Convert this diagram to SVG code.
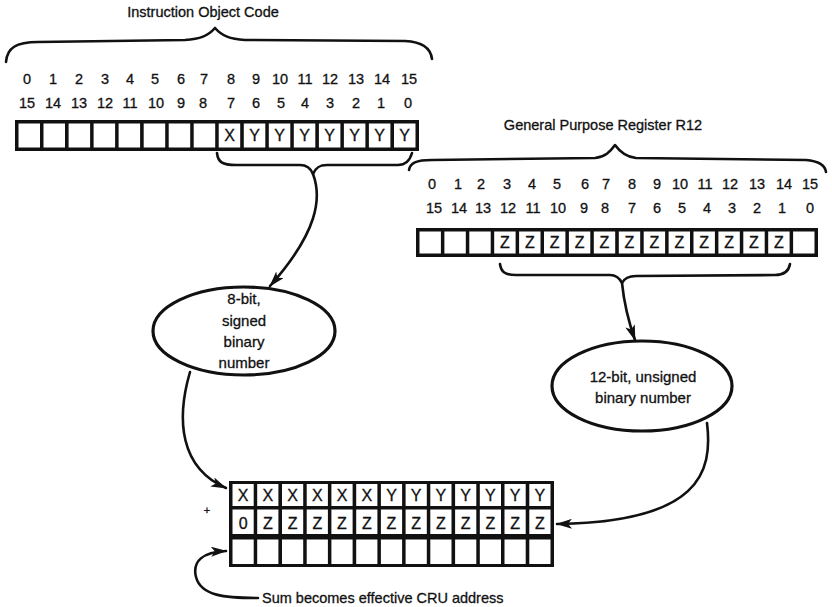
<svg xmlns="http://www.w3.org/2000/svg" width="832" height="607" viewBox="0 0 832 607">
<defs>
<style>
text{font-family:"Liberation Sans",Arial,sans-serif;fill:#111;stroke:#111;stroke-width:0.3}
.t{font-size:14.5px}
.d{font-size:14.5px;text-anchor:middle}
.c{font-size:16px;text-anchor:middle}
.o{font-size:15px;text-anchor:middle}
.reg{fill:#111}
.cell{fill:#fff}
.br{fill:none;stroke:#111;stroke-width:2.6;stroke-linecap:round;stroke-linejoin:round}
.ln{fill:none;stroke:#111;stroke-width:2.6;stroke-linecap:round}
.ov{fill:#fff;stroke:#111;stroke-width:3.2}
</style>
<marker id="ah" viewBox="0 0 16 10" refX="15" refY="5" markerWidth="16" markerHeight="10" markerUnits="userSpaceOnUse" orient="auto">
<path d="M0,0 L16,5 L0,10 L4,5 Z" fill="#111"/>
</marker>
</defs>
<rect width="832" height="607" fill="#fff"/>

<g id="instruction-object-code">
<text class="t" x="203" y="17" text-anchor="middle">Instruction Object Code</text>
<path class="br" d="M6,62 C7,48 16,42 38,42 L185,40 C200,39 208,36 215,28 C222,36 230,39 245,40 L405,41 C425,42 431,50 432,59"/>
<g class="d">
<text x="27" y="84">0</text><text x="53" y="84">1</text><text x="79" y="84">2</text><text x="105" y="84">3</text><text x="130" y="84">4</text><text x="155" y="84">5</text><text x="181" y="84">6</text><text x="204" y="84">7</text><text x="231" y="84">8</text><text x="256" y="84">9</text><text x="280" y="84">10</text><text x="305" y="84">11</text><text x="330" y="84">12</text><text x="356" y="84">13</text><text x="382" y="84">14</text><text x="409" y="84">15</text>
<text x="27" y="108">15</text><text x="53" y="108">14</text><text x="79" y="108">13</text><text x="105" y="108">12</text><text x="130" y="108">11</text><text x="156" y="108">10</text><text x="181" y="108">9</text><text x="203" y="108">8</text><text x="231" y="108">7</text><text x="256" y="108">6</text><text x="281" y="108">5</text><text x="305" y="108">4</text><text x="330" y="108">3</text><text x="356" y="108">2</text><text x="381" y="108">1</text><text x="408" y="108">0</text>
</g>
<rect class="reg" x="15" y="120" width="404" height="31"/>
<g class="cell">
<rect x="18.5" y="123.5" width="21.5" height="24"/><rect x="43.5" y="123.5" width="21.5" height="24"/><rect x="68.6" y="123.5" width="21.5" height="24"/><rect x="93.6" y="123.5" width="21.5" height="24"/><rect x="118.6" y="123.5" width="21.5" height="24"/><rect x="143.7" y="123.5" width="21.5" height="24"/><rect x="168.7" y="123.5" width="21.5" height="24"/><rect x="193.7" y="123.5" width="21.5" height="24"/><rect x="218.7" y="123.5" width="21.5" height="24"/><rect x="243.8" y="123.5" width="21.5" height="24"/><rect x="268.8" y="123.5" width="21.5" height="24"/><rect x="293.8" y="123.5" width="21.5" height="24"/><rect x="318.9" y="123.5" width="21.5" height="24"/><rect x="343.9" y="123.5" width="21.5" height="24"/><rect x="368.9" y="123.5" width="21.5" height="24"/><rect x="394" y="123.5" width="21.5" height="24"/>
</g>
<g class="c">
<text x="229.5" y="141">X</text><text x="254.5" y="141">Y</text><text x="279.6" y="141">Y</text><text x="304.6" y="141">Y</text><text x="329.6" y="141">Y</text><text x="354.6" y="141">Y</text><text x="379.7" y="141">Y</text><text x="404.7" y="141">Y</text>
</g>
</g>

<g id="register-r12">
<text class="t" x="603" y="130" text-anchor="middle">General Purpose Register R12</text>
<path class="br" d="M409,170 C410,163 416,160 432,160 L595,158 C605,157 610,152 615,145 C620,152 626,157 636,158 L806,160 C819,161 825,165 826,172"/>
<g class="d">
<text x="432" y="189">0</text><text x="458" y="189">1</text><text x="481" y="189">2</text><text x="507" y="189">3</text><text x="532" y="189">4</text><text x="557" y="189">5</text><text x="585" y="189">6</text><text x="606" y="189">7</text><text x="632" y="189">8</text><text x="657" y="189">9</text><text x="680" y="189">10</text><text x="705" y="189">11</text><text x="730" y="189">12</text><text x="757" y="189">13</text><text x="784" y="189">14</text><text x="810" y="189">15</text>
<text x="434" y="213">15</text><text x="459" y="213">14</text><text x="483" y="213">13</text><text x="508" y="213">12</text><text x="533" y="213">11</text><text x="558" y="213">10</text><text x="584" y="213">9</text><text x="605" y="213">8</text><text x="632" y="213">7</text><text x="657" y="213">6</text><text x="682" y="213">5</text><text x="707" y="213">4</text><text x="732" y="213">3</text><text x="757" y="213">2</text><text x="782" y="213">1</text><text x="810" y="213">0</text>
</g>
<rect class="reg" x="416" y="228" width="402" height="29"/>
<g class="cell">
<rect x="419.5" y="231.5" width="21.4" height="22"/><rect x="444.4" y="231.5" width="21.4" height="22"/><rect x="469.3" y="231.5" width="21.4" height="22"/><rect x="494.2" y="231.5" width="21.4" height="22"/><rect x="519.1" y="231.5" width="21.4" height="22"/><rect x="544" y="231.5" width="21.4" height="22"/><rect x="568.9" y="231.5" width="21.4" height="22"/><rect x="593.8" y="231.5" width="21.4" height="22"/><rect x="618.8" y="231.5" width="21.4" height="22"/><rect x="643.7" y="231.5" width="21.4" height="22"/><rect x="668.6" y="231.5" width="21.4" height="22"/><rect x="693.5" y="231.5" width="21.4" height="22"/><rect x="718.4" y="231.5" width="21.4" height="22"/><rect x="743.3" y="231.5" width="21.4" height="22"/><rect x="768.2" y="231.5" width="21.4" height="22"/><rect x="793.1" y="231.5" width="21.4" height="22"/>
</g>
<g class="c">
<text x="504.9" y="248">Z</text><text x="529.8" y="248">Z</text><text x="554.7" y="248">Z</text><text x="579.6" y="248">Z</text><text x="604.5" y="248">Z</text><text x="629.4" y="248">Z</text><text x="654.4" y="248">Z</text><text x="679.3" y="248">Z</text><text x="704.2" y="248">Z</text><text x="729.1" y="248">Z</text><text x="754" y="248">Z</text><text x="778.9" y="248">Z</text>
</g>
</g>

<g id="signed-number">
<ellipse class="ov" cx="244" cy="331" rx="91" ry="44"/>
<text class="o" x="244" y="304">8-bit,</text>
<text class="o" x="244" y="326">signed</text>
<text class="o" x="244" y="347">binary</text>
<text class="o" x="244" y="368">number</text>
</g>

<g id="unsigned-number">
<ellipse class="ov" cx="642" cy="386" rx="90" ry="45"/>
<text class="o" x="643" y="382">12-bit, unsigned</text>
<text class="o" x="643" y="403">binary number</text>
</g>

<g id="sum-register">
<text x="207" y="514" font-size="11" text-anchor="middle">+</text>
<rect class="reg" x="229" y="481" width="325" height="86"/>
<g class="cell">
<rect x="232.5" y="484" width="21.2" height="22"/><rect x="257.2" y="484" width="21.2" height="22"/><rect x="282" y="484" width="21.2" height="22"/><rect x="306.7" y="484" width="21.2" height="22"/><rect x="331.4" y="484" width="21.2" height="22"/><rect x="356.2" y="484" width="21.2" height="22"/><rect x="380.9" y="484" width="21.2" height="22"/><rect x="405.6" y="484" width="21.2" height="22"/><rect x="430.3" y="484" width="21.2" height="22"/><rect x="455.1" y="484" width="21.2" height="22"/><rect x="479.8" y="484" width="21.2" height="22"/><rect x="504.5" y="484" width="21.2" height="22"/><rect x="529.3" y="484" width="21.2" height="22"/>
<rect x="232.5" y="509.5" width="21.2" height="24.5"/><rect x="257.2" y="509.5" width="21.2" height="24.5"/><rect x="282" y="509.5" width="21.2" height="24.5"/><rect x="306.7" y="509.5" width="21.2" height="24.5"/><rect x="331.4" y="509.5" width="21.2" height="24.5"/><rect x="356.2" y="509.5" width="21.2" height="24.5"/><rect x="380.9" y="509.5" width="21.2" height="24.5"/><rect x="405.6" y="509.5" width="21.2" height="24.5"/><rect x="430.3" y="509.5" width="21.2" height="24.5"/><rect x="455.1" y="509.5" width="21.2" height="24.5"/><rect x="479.8" y="509.5" width="21.2" height="24.5"/><rect x="504.5" y="509.5" width="21.2" height="24.5"/><rect x="529.3" y="509.5" width="21.2" height="24.5"/>
<rect x="232.5" y="539.5" width="21.2" height="24.5"/><rect x="257.2" y="539.5" width="21.2" height="24.5"/><rect x="282" y="539.5" width="21.2" height="24.5"/><rect x="306.7" y="539.5" width="21.2" height="24.5"/><rect x="331.4" y="539.5" width="21.2" height="24.5"/><rect x="356.2" y="539.5" width="21.2" height="24.5"/><rect x="380.9" y="539.5" width="21.2" height="24.5"/><rect x="405.6" y="539.5" width="21.2" height="24.5"/><rect x="430.3" y="539.5" width="21.2" height="24.5"/><rect x="455.1" y="539.5" width="21.2" height="24.5"/><rect x="479.8" y="539.5" width="21.2" height="24.5"/><rect x="504.5" y="539.5" width="21.2" height="24.5"/><rect x="529.3" y="539.5" width="21.2" height="24.5"/>
</g>
<g class="c">
<text x="243.1" y="501">X</text><text x="267.8" y="501">X</text><text x="292.6" y="501">X</text><text x="317.3" y="501">X</text><text x="342" y="501">X</text><text x="366.8" y="501">X</text><text x="391.5" y="501">Y</text><text x="416.2" y="501">Y</text><text x="440.9" y="501">Y</text><text x="465.7" y="501">Y</text><text x="490.4" y="501">Y</text><text x="515.1" y="501">Y</text><text x="539.9" y="501">Y</text>
<text x="243.1" y="529">0</text><text x="267.8" y="529">Z</text><text x="292.6" y="529">Z</text><text x="317.3" y="529">Z</text><text x="342" y="529">Z</text><text x="366.8" y="529">Z</text><text x="391.5" y="529">Z</text><text x="416.2" y="529">Z</text><text x="440.9" y="529">Z</text><text x="465.7" y="529">Z</text><text x="490.4" y="529">Z</text><text x="515.1" y="529">Z</text><text x="539.9" y="529">Z</text>
</g>
<text class="t" x="262" y="603">Sum becomes effective CRU address</text>
</g>

<g id="connectors">
<path class="br" d="M217,153 C218,162 222,165 236,165 L300,165 C308,165 311,169 313,174 C315,169 318,165 327,165 L398,165 C406,165 410,160 412,153"/>
<path class="ln" d="M313,174 C322,198 318,232 270,286" marker-end="url(#ah)"/>
<path class="br" d="M500,264 C501,272 505,275 516,275 L610,275 C617,275 620,279 622,283 C624,279 628,276 636,276 L775,275 C785,275 789,270 790,264"/>
<path class="ln" d="M622,283 C624,303 628,320 635,340" marker-end="url(#ah)"/>
<path class="ln" d="M190,372 C176,420 180,468 226,488" marker-end="url(#ah)"/>
<path class="ln" d="M707,423 C713,472 700,522 557,524" marker-end="url(#ah)"/>
<path class="ln" d="M258,598 C225,598 201,596 196,577 C192,561 203,552 226,551" marker-end="url(#ah)"/>
</g>
</svg>
